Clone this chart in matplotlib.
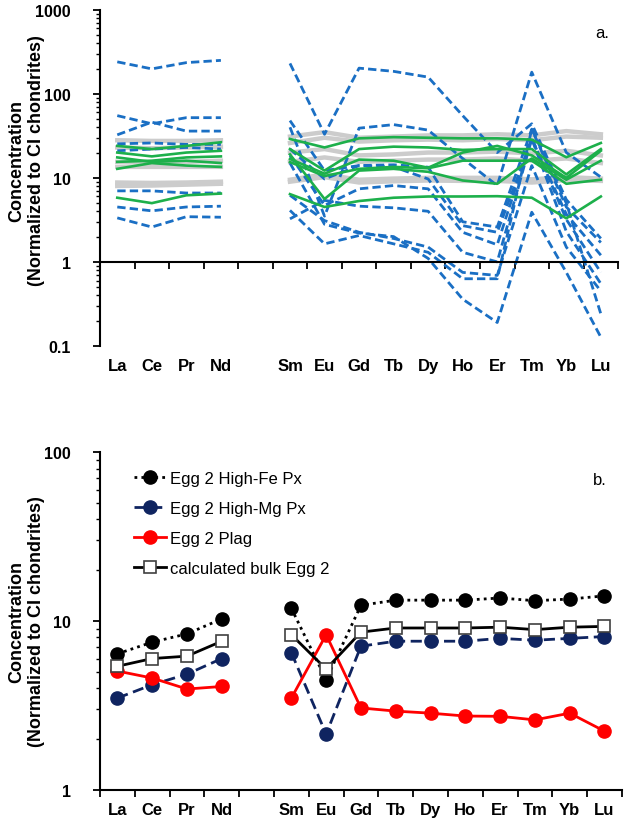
import numpy as np
import matplotlib.pyplot as plt
from matplotlib import font_manager
from matplotlib.ticker import LogLocator, FuncFormatter, NullFormatter

names = {f.name for f in font_manager.fontManager.ttflist}
narrow = "Liberation Sans Narrow" if "Liberation Sans Narrow" in names else "Liberation Sans"
plt.rcParams["font.family"] = [narrow, "DejaVu Sans"]
plt.rcParams["font.weight"] = "bold"

elements = ["La", "Ce", "Pr", "Nd", "", "Sm", "Eu", "Gd", "Tb", "Dy", "Ho", "Er", "Tm", "Yb", "Lu"]
nan = np.nan

# panel a: grey reference patterns
gray_lines = [
    [28, 27.5, 27.5, 28, nan, 31, 35, 30, 31, 32, 32, 33, 32, 36, 33],
    [23, 22.5, 23, 23.5, nan, 26, 30, 27, 28, 28.5, 28, 29, 28, 31, 30],
    [15.5, 15, 15.5, 16, nan, 20, 22, 18.5, 19, 20, 20, 20.5, 19.5, 21, 18.5],
    [13.5, 13.5, 13.5, 13.5, nan, 15.5, 17.5, 15.5, 16, 16.5, 16.5, 17, 16, 17, 15],
    [8.8, 8.7, 8.8, 9.0, nan, 9.5, 11, 9.5, 9.8, 10, 10, 10, 9.6, 10.2, 9.8],
    [8.0, 8.1, 8.3, 8.5, nan, 9.0, 10.2, 8.8, 9.1, 9.3, 9.2, 9.2, 8.8, 9.4, 9.2],
]
# panel a: green solid patterns
green_lines = [
    [24, 22, 24, 26.5, nan, 29, 23, 29.5, 30.5, 30, 29.5, 29.5, 28.5, 17.6, 26],
    [20, 18, 20, 21, nan, 22, 12.2, 22, 23.5, 23, 21.5, 22, 22, 11, 22],
    [17.5, 15.5, 16, 15, nan, 16.8, 11.2, 16.5, 16, 13.2, 20, 24, 18.5, 10, 21],
    [15.5, 16, 17.5, 18, nan, 19, 5.6, 12.2, 12.8, 11.8, 9.3, 8.5, 17, 9.5, 16],
    [12.8, 15, 14, 13.5, nan, 15.4, 10.5, 12.8, 13.5, 13, 16, 16, 16, 8.5, 9.5],
    [5.8, 5.0, 6.2, 6.5, nan, 6.4, 4.5, 5.3, 5.8, 6.0, 6.0, 6.05, 5.8, 3.3, 6.0],
]
# panel a: blue dashed patterns
blue_lines = [
    [240, 198, 235, 250, nan, 230, 33, 202, 185, 158, 55, 20, 44, 5.5, 1.9],
    [55, 44, 52, 52, nan, 48, 12.2, 14, 14.3, 13.4, 3.0, 2.6, 38, 4.5, 1.7],
    [32.5, 46, 36, 36, nan, 40, 3.5, 39, 43, 37, 17, 8.1, 181, 20, 10.2],
    [25.4, 26, 25, 25, nan, 22, 9.7, 14, 13.5, 9.7, 2.7, 2.25, 29, 3.7, 1.2],
    [21, 22, 23, 22, nan, 18.5, 4.7, 7.4, 8.1, 7.4, 2.25, 1.6, 30, 3.2, 0.75],
    [7.0, 7.0, 6.6, 6.6, nan, 6.2, 3.1, 2.25, 1.9, 1.5, 0.75, 0.69, 14, 1.5, 0.45],
    [4.5, 4.05, 4.5, 4.6, nan, 4.1, 1.64, 2.06, 1.64, 1.3, 0.63, 0.63, 38, 5.0, 0.24],
    [3.34, 2.6, 3.45, 3.4, nan, 3.25, 5.4, 4.6, 4.4, 4.0, 1.3, 1.0, 29, 2.3, 0.55],
    [nan, nan, nan, nan, nan, 15, 2.8, 2.2, 2.0, 1.1, 0.36, 0.19, 3.9, 0.75, 0.127],
]

# panel b
high_fe = [6.4, 7.5, 8.4, 10.3, nan, 11.9, 4.5, 12.4, 13.3, 13.3, 13.3, 13.7, 13.2, 13.5, 14.1]
high_mg = [3.5, 4.2, 4.85, 6.0, nan, 6.5, 2.14, 7.1, 7.6, 7.6, 7.6, 7.9, 7.7, 7.9, 8.1]
plag = [5.06, 4.6, 3.96, 4.1, nan, 3.5, 8.3, 3.06, 2.93, 2.85, 2.74, 2.73, 2.6, 2.85, 2.23]
bulk = [5.4, 6.0, 6.2, 7.6, nan, 8.3, 5.2, 8.6, 9.1, 9.1, 9.1, 9.2, 8.9, 9.2, 9.3]

x = np.arange(len(elements))

fig = plt.figure(figsize=(6.25, 8.28), dpi=100)
ax1 = fig.add_axes([0.16, 0.581, 0.829, 0.406])
ax2 = fig.add_axes([0.16, 0.0447, 0.835, 0.408])


def style(ax, ylo, yhi):
    ax.set_yscale("log")
    ax.set_ylim(ylo, yhi)
    ax.set_xlim(-0.5, 14.5)
    ax.spines[["top", "right"]].set_visible(False)
    ax.spines["left"].set_linewidth(1.5)
    ax.spines["bottom"].set_linewidth(1.5)
    ax.yaxis.set_major_formatter(FuncFormatter(lambda v, p: f"{v:g}"))
    ax.yaxis.set_minor_locator(LogLocator(base=10, subs=np.arange(2, 10)))
    ax.yaxis.set_minor_formatter(NullFormatter())
    ax.tick_params(axis="y", which="major", length=5, width=1.3, labelsize=11.5, pad=16)
    ax.tick_params(axis="y", which="minor", length=3, width=1)
    ax.set_xticks(np.arange(-0.5, 15, 1))
    ax.tick_params(axis="x", length=5, width=1.3, labelbottom=False)
    sec = ax.secondary_xaxis(0)
    sec.set_xticks(x, elements)
    sec.tick_params(length=0, labelsize=12, pad=9)
    sec.spines["bottom"].set_visible(False)


style(ax1, 0.1, 1000)
ax1.spines["bottom"].set_position(("data", 1))

for v in gray_lines:
    ax1.plot(x, v, color="#cccccc", lw=3.2)
for v in blue_lines:
    ax1.plot(x, v, color="#1a6fc4", lw=2, ls=(0, (3, 1.5)))
for v in green_lines:
    ax1.plot(x, v, color="#1db04b", lw=1.9)
ax1.text(0.955, 0.92, "a.", transform=ax1.transAxes, fontsize=12, fontweight="normal")

style(ax2, 1, 100)
ax2.plot(x, high_fe, color="black", lw=2, ls=(0, (1, 1.5)), marker="o", ms=9.5,
         label="Egg 2 High-Fe Px")
ax2.plot(x, high_mg, color="#0f2460", lw=2, ls=(0, (4, 2)), marker="o", ms=9.5,
         label="Egg 2 High-Mg Px")
ax2.plot(x, plag, color="#ff0000", lw=2, marker="o", ms=9.5, label="Egg 2 Plag")
ax2.plot(x, bulk, color="black", lw=2, marker="s", ms=8, mfc="white", mec="#404040",
         mew=1.2, label="calculated bulk Egg 2")
ax2.legend(loc="upper left", bbox_to_anchor=(0.05, 0.968), frameon=False,
           prop={"weight": "normal", "size": 12}, handlelength=1.9,
           handletextpad=0.25, labelspacing=0.9, borderpad=0)
ax2.text(0.945, 0.905, "b.", transform=ax2.transAxes, fontsize=12, fontweight="normal")

ylab = "Concentration\n(Normalized to CI chondrites)"
fig.text(0.042, 0.806, ylab, rotation=90, ha="center", va="center", fontsize=13,
         multialignment="center")
fig.text(0.042, 0.249, ylab, rotation=90, ha="center", va="center", fontsize=13,
         multialignment="center")

fig.savefig("out.png", dpi=100)
